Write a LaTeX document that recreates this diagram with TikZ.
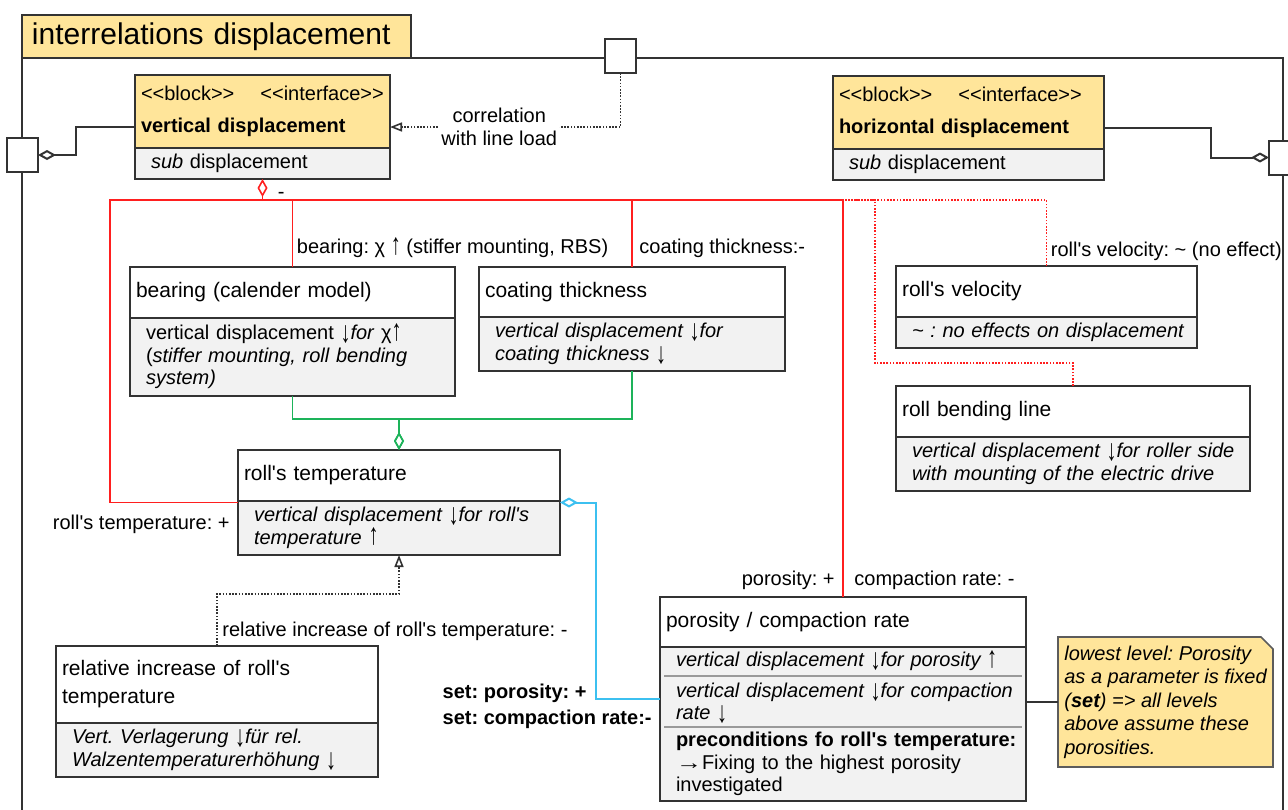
\documentclass[tikz,border=0pt]{standalone}
\usepackage{fontspec}
\newfontfamily\uifont{Liberation Sans}
\usetikzlibrary{positioning,arrows.meta,fit,backgrounds}

\definecolor{blockyellow}{HTML}{FFE59A}
\definecolor{compgray}{HTML}{F2F2F2}
\definecolor{edgegray}{HTML}{333333}
\definecolor{sepgray}{HTML}{9A9A9A}
\definecolor{linkred}{HTML}{FF1F1F}
\definecolor{linkgreen}{HTML}{1DB35A}
\definecolor{linkcyan}{HTML}{3CC0F0}

\newcommand{\headfont}{\uifont\fontsize{15}{18}\selectfont}
\newcommand{\titlefont}{\uifont\fontsize{10.5}{14}\selectfont}
\newcommand{\bodyfont}{\uifont\fontsize{10}{11.25}\selectfont}
% taller thin arrows as in the model tool
\newcommand{\dnarr}{\smash{\raisebox{-1.3pt}{\scalebox{1}[1.5]{↓}}}}
\newcommand{\uparr}{\smash{\raisebox{-0.2pt}{\scalebox{1}[1.5]{↑}}}}
\newcommand{\rtarr}{\scalebox{1.3}[1]{→}}

\begin{document}
\frenchspacing
\begin{tikzpicture}[
  x=0.5pt, y=-0.5pt,
  clshead/.style={draw=edgegray, line width=1pt, fill=white, outer sep=0pt,
    inner xsep=3pt, inner ysep=0pt, align=left, font=\titlefont},
  clsbody/.style={draw=edgegray, line width=1pt, fill=compgray, outer sep=0pt,
    inner xsep=8pt, inner ysep=0pt, align=left, font=\bodyfont},
  clsbodyit/.style={clsbody, font=\bodyfont\itshape},
  boxfit/.style={inner sep=0pt, outer sep=0pt},
  port/.style={draw=edgegray, line width=1pt, fill=white, minimum width=15.5pt,
    minimum height=17pt, inner sep=0pt, outer sep=0pt},
  lbl/.style={inner sep=2pt, font=\bodyfont},
  frameline/.style={draw=edgegray, line width=1pt},
  darkline/.style={draw=edgegray, line width=1pt},
  sepline/.style={draw=sepgray, line width=0.8pt},
  notefill/.style={draw=edgegray!80, fill=blockyellow, line width=0.8pt},
  dotline/.style={draw=edgegray, line width=0.8pt, dash pattern=on 0.8pt off 0.8pt},
  redline/.style={draw=linkred, line width=0.8pt},
  reddot/.style={redline, dash pattern=on 0.8pt off 0.8pt},
  greenline/.style={draw=linkgreen, line width=0.8pt},
  cyanline/.style={draw=linkcyan, line width=1pt},
  agg/.style={-{Diamond[open, length=9pt, width=5pt]}},
  gen/.style={-{Triangle[open, length=6pt, width=4.5pt]}}
]
  \useasboundingbox (0,0) rectangle (1288,809);

  % frame and ports
  \node[draw=edgegray, line width=1pt, fill=blockyellow, anchor=north west, outer sep=0pt,
    text width=184.5pt, inner xsep=5pt, inner ysep=0pt, minimum height=21.5pt,
    align=left, font=\headfont] (heading) at (22,15) {interrelations displacement};
  \draw[frameline] (heading.south west) -- (22,830);
  \draw[frameline] (heading.south east) -- (1283,58) -- (1283,830);
  \node[port] (topport) at (620.5,56) {};
  \node[port] (leftport) at (22.5,155) {};
  \node[port] (rightport) at (1284.5,157.5) {};

  % interface blocks
  \node[clshead, fill=blockyellow, font=\bodyfont, text width=121.5pt, minimum height=36.5pt,
    anchor=north west] (vdisp) at (135,75)
    {<{}<block>{}>\hspace{13pt}<{}<interface>{}>\\[4.75pt]\textbf{vertical displacement}};
  \node[clsbody, text width=111.5pt, minimum height=15.5pt, below=0pt of vdisp] (vdispsub)
    {\textit{sub} displacement};
  \node[boxfit, fit=(vdisp)(vdispsub)] (vdispbox) {};

  \node[clshead, fill=blockyellow, font=\bodyfont, text width=129.5pt, minimum height=36.5pt,
    anchor=north west] (hdisp) at (833,76)
    {<{}<block>{}>\hspace{13pt}<{}<interface>{}>\\[4.75pt]\textbf{horizontal displacement}};
  \node[clsbody, text width=119.5pt, minimum height=15.5pt, below=0pt of hdisp] (hdispsub)
    {\textit{sub} displacement};
  \node[boxfit, fit=(hdisp)(hdispsub)] (hdispbox) {};

  % influencing blocks
  \node[clshead, text width=156.5pt, minimum height=25.5pt, anchor=north west] (bearing)
    at (130,267) {bearing (calender model)};
  \node[clsbody, text width=146.5pt, minimum height=39pt, below=0pt of bearing] (bearingsub)
    {vertical displacement \dnarr\textit{for} χ\uparr\\(\textit{stiffer mounting, roll bending}\\\textit{system)}};
  \node[boxfit, fit=(bearing)(bearingsub)] (bearingbox) {};

  \node[clshead, text width=147pt, minimum height=25pt, anchor=north west] (coating)
    at (479,267) {coating thickness};
  \node[clsbodyit, text width=137pt, minimum height=27pt, below=0pt of coating] (coatingsub)
    {vertical displacement \dnarr for\\coating thickness \dnarr};
  \node[boxfit, fit=(coating)(coatingsub)] (coatingbox) {};

  \node[clshead, text width=144.5pt, minimum height=25.5pt, anchor=north west] (velocity)
    at (896,266) {roll's velocity};
  \node[clsbodyit, text width=134.5pt, minimum height=15.5pt, below=0pt of velocity] (velocitysub)
    {\mbox{\textasciitilde{} : no effects on displacement}};
  \node[boxfit, fit=(velocity)(velocitysub)] (velocitybox) {};

  \node[clshead, text width=171pt, minimum height=25.5pt, anchor=north west] (bending)
    at (896,386) {roll bending line};
  \node[clsbodyit, text width=161pt, minimum height=27pt, below=0pt of bending] (bendingsub)
    {\mbox{vertical displacement \dnarr for roller side}\\with mounting of the electric drive};
  \node[boxfit, fit=(bending)(bendingsub)] (bendingbox) {};

  \node[clshead, text width=155pt, minimum height=25.5pt, anchor=north west] (temp)
    at (238,450) {roll's temperature};
  \node[clsbodyit, text width=145pt, minimum height=27pt, below=0pt of temp] (tempsub)
    {vertical displacement \dnarr for roll's\\temperature \uparr};
  \node[boxfit, fit=(temp)(tempsub)] (tempbox) {};

  \node[clshead, text width=155pt, minimum height=38.5pt, anchor=north west] (relinc)
    at (56,646) {relative increase of roll's\\temperature};
  \node[clsbodyit, text width=145pt, minimum height=27pt, below=0pt of relinc] (relincsub)
    {Vert. Verlagerung \dnarr für rel.\\Walzentemperaturerhöhung \dnarr};
  \node[boxfit, fit=(relinc)(relincsub)] (relincbox) {};

  \node[clshead, text width=177pt, minimum height=25pt, anchor=north west] (porosity)
    at (660,597) {porosity / compaction rate};
  \node[clsbodyit, draw=none, text width=167pt, minimum height=14.5pt, below=0pt of porosity]
    (porsubA) {vertical displacement \dnarr for porosity \uparr};
  \node[clsbodyit, draw=none, text width=167pt, minimum height=25.5pt, below=0pt of porsubA]
    (porsubB) {\mbox{vertical displacement \dnarr for compaction}\\rate \dnarr};
  \node[clsbody, draw=none, text width=167pt, minimum height=37pt, below=0pt of porsubB]
    (porsubC) {\mbox{\textbf{preconditions fo roll's temperature:}}\\\rtarr Fixing to the highest porosity\\investigated};
  \node[boxfit, draw=edgegray, line width=1pt, fit=(porosity)(porsubC)] (porositybox) {};
  \draw[darkline] (porosity.south west) -- (porosity.south east);
  \draw[sepline] ([xshift=2pt]porsubB.north west) -- ([xshift=-2pt]porsubB.north east);
  \draw[sepline] ([xshift=2pt]porsubC.north west) -- ([xshift=-2pt]porsubC.north east);

  % note
  \node[anchor=north west, minimum width=107.5pt, minimum height=65pt, inner sep=0pt,
    outer sep=0pt, align=left, font=\uifont\fontsize{10}{11.75}\selectfont\itshape] (note)
    at (1058,637) {lowest level: Porosity\\as a parameter is fixed\\(\textbf{set}) => all levels\\above assume these\\porosities.};
  \begin{scope}[on background layer]
    \draw[notefill] (note.north west) -- ([xshift=-6pt]note.north east)
      -- ([yshift=-6pt]note.north east) -- (note.south east) -- (note.south west) -- cycle;
  \end{scope}

  % ports and note links
  \draw[darkline, agg] (vdispbox.west) -- ++(-59,0) |- (leftport.east);
  \draw[darkline, agg] (hdispbox.east) -- ++(107,0) |- (rightport.west);
  \draw[darkline] (note.west) -- (note.west -| porositybox.east);
  \draw[dotline, gen] (topport.south) |- node[lbl, pos=0.763, fill=white, align=center,
    inner sep=1pt, font=\uifont\fontsize{10}{11.5}\selectfont] (corrlbl)
    {correlation\\with line load} (vdispbox.east);
  \draw[dotline, gen] (relincbox.north) -- ++(0,-52) -| (tempbox.south);

  % red: influences on vertical displacement
  \coordinate (hub) at ([yshift=-10.5pt]vdispbox.south);
  \draw[redline, agg] (hub) -- (vdispbox.south);
  \draw[redline] (bearingbox.north) |- (hub);
  \draw[redline] (coatingbox.north) |- (hub);
  \draw[redline] (porositybox.north) |- (hub);
  \draw[redline] (tempbox.west) -- ++(-128,0) |- (hub);
  \draw[reddot] (velocitybox.north) |- (porositybox.north |- hub);
  \draw[reddot] (bendingbox.north) -- ++(0,-23) -| ++(-198,-163) -- (porositybox.north |- hub);

  % green and cyan
  \draw[greenline, agg] (bearingsub.south) -- ++(0,23) -| (tempbox.north);
  \draw[greenline, agg] (coatingsub.south) -- ++(0,48) -| (tempbox.north);
  \draw[cyanline, agg] (porositybox.west) -- ++(-64,0) |- (tempbox.east);

  % labels
  \node[lbl, anchor=base west, inner sep=0pt] (hubminus) at ([shift={(15,-2)}]hub) {-};
  \node[lbl, above right=2.3pt and 0pt of bearingbox.north] (bearinglbl)
    {bearing: χ \uparr\ (stiffer mounting, RBS)};
  \node[lbl, above right=2.3pt and 1.5pt of coatingbox.north] (coatinglbl) {coating thickness:-};
  \node[lbl, above right=0.3pt and 0pt of velocitybox.north] (velocitylbl)
    {roll's velocity: \textasciitilde{} (no effect)};
  \node[lbl, above left=1.3pt and 2pt of porositybox.north] (porositylbl) {porosity: +};
  \node[lbl, above right=1.3pt and 3.5pt of porositybox.north] (compactionlbl) {compaction rate: -};
  \node[lbl, below left=3.9pt and 2pt of tempbox.west] (templbl) {roll's temperature: +};
  \node[lbl, above right=0.3pt and 0.5pt of relincbox.north] (relinclbl)
    {relative increase of roll's temperature: -};
  \node[lbl, font=\uifont\fontsize{10}{13}\selectfont\bfseries, align=left, anchor=east] (setlbl)
    at ([shift={(-2pt,-3.5pt)}]porositybox.west) {set: porosity: +\\set: compaction rate:-};
\end{tikzpicture}
\end{document}
